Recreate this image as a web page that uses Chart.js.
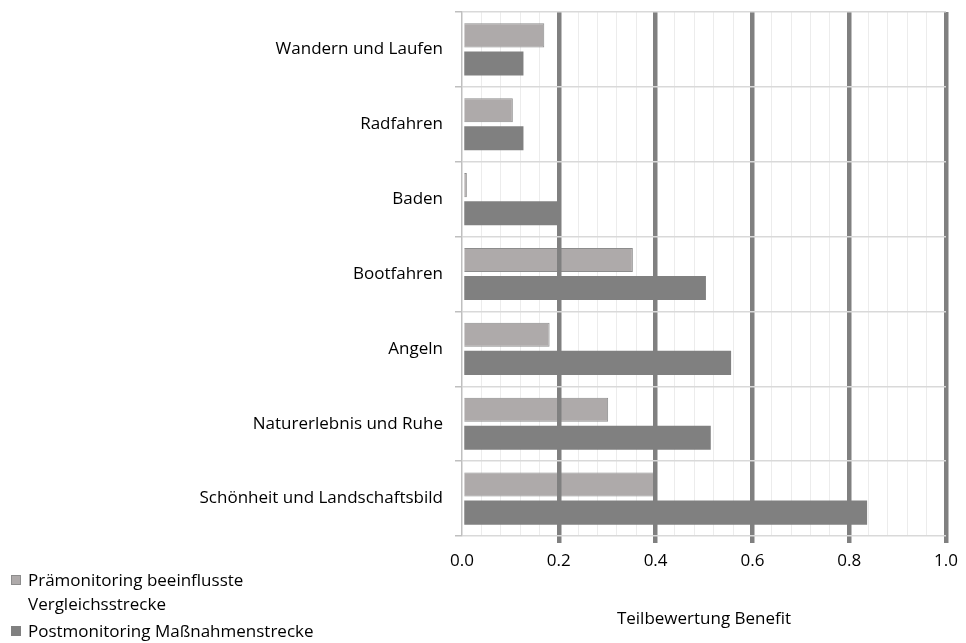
<!DOCTYPE html>
<html>
<head>
<meta charset="utf-8">
<script src="https://cdn.jsdelivr.net/npm/chart.js@4/dist/chart.umd.min.js"></script>
<style>
    html, body { margin: 0; padding: 0; background: #fff; }
    #wrap { position: relative; width: 966px; height: 643px; }
    #legend { position: absolute; left: 11px; top: 568px; font-family: 'Open Sans', sans-serif; font-size: 17px; color: #000; }
    .item { display: flex; align-items: flex-start; margin-bottom: 3px; }
    .box { width: 10px; height: 10px; margin-top: 7px; margin-right: 7px; box-sizing: border-box; }
    .txt { line-height: 24px; }
</style>
</head>
<body>
<div id="wrap">
    <canvas id="benefitChart" width="966" height="643"></canvas>
    <div id="legend"></div>
</div>
<script>
// Teilbewertung Benefit - Prä vs. Post
const categories = [
    'Wandern und Laufen',
    'Radfahren',
    'Baden',
    'Bootfahren',
    'Angeln',
    'Naturerlebnis und Ruhe',
    'Schönheit und Landschaftsbild'
];
const seriesNames = [
    ['Prämonitoring beeinflusste', 'Vergleichsstrecke'],
    ['Postmonitoring Maßnahmenstrecke']
];
const preValues = [0.17, 0.105, 0.01, 0.353, 0.181, 0.302, 0.40];
const postValues = [0.127, 0.127, 0.20, 0.504, 0.556, 0.514, 0.837];
const xTicks = [0, 0.2, 0.4, 0.6, 0.8, 1.0];
const axisTitle = 'Teilbewertung Benefit';

const preColor = '#aeaaaa';
const preBorder = '#8c8c8c';
const postColor = '#808080';
const font = "'Open Sans', sans-serif";

function isMajor(v) {
    return Math.abs(v * 5 - Math.round(v * 5)) < 1e-6;
}

const ctx = document.getElementById('benefitChart').getContext('2d');

new Chart(ctx, {
    type: 'bar',
    data: {
        labels: categories,
        datasets: [{
            label: seriesNames[0].join(' '),
            data: preValues,
            backgroundColor: preColor,
            borderColor: preBorder,
            borderWidth: 1,
            xAxisID: 'x'
        }, {
            label: seriesNames[1].join(' '),
            data: postValues,
            backgroundColor: postColor,
            borderColor: postColor,
            borderWidth: 0,
            xAxisID: 'x'
        }]
    },
    options: {
        indexAxis: 'y',
        responsive: false,
        animation: false,
        devicePixelRatio: 1,
        categoryPercentage: 0.75,
        barPercentage: 0.857,
        layout: { padding: { top: 12, right: 20, left: 0, bottom: 0 } },
        plugins: {
            legend: { display: false },
            tooltip: { enabled: false }
        },
        scales: {
            x: {
                type: 'linear',
                position: 'bottom',
                min: 0,
                max: 1,
                afterBuildTicks: scale => {
                    scale.ticks = xTicks.map(v => ({ value: v }));
                },
                afterFit: scale => { scale.height = 107; },
                grid: {
                    z: 1,
                    color: c => (c.tick && c.tick.value === 0) ? 'rgba(0,0,0,0)' : '#808080',
                    tickColor: c => (c.tick && c.tick.value === 0) ? 'rgba(0,0,0,0)' : '#808080',
                    lineWidth: 4.5,
                    tickWidth: 4.5,
                    tickLength: 7
                },
                border: { display: false },
                ticks: {
                    padding: 8,
                    color: '#000',
                    maxRotation: 0,
                    autoSkip: false,
                    font: { family: font, size: 17 },
                    callback: v => Number(v).toFixed(1)
                },
                title: {
                    display: true,
                    text: axisTitle,
                    color: '#000',
                    font: { family: font, size: 17 },
                    padding: { top: 0, bottom: 14 }
                }
            },
            xMinor: {
                type: 'linear',
                position: 'bottom',
                min: 0,
                max: 1,
                afterFit: scale => { scale.height = 0; },
                ticks: { display: false, stepSize: 0.04 },
                grid: {
                    z: -1,
                    drawTicks: false,
                    color: c => (c.tick && (c.tick.value === 0 || isMajor(c.tick.value))) ? 'rgba(0,0,0,0)' : '#ececec',
                    lineWidth: 1
                },
                border: { display: false }
            },
            y: {
                type: 'category',
                afterFit: scale => {
                    scale.width = 462;
                    scale.paddingTop = 0;
                    scale.paddingBottom = 0;
                },
                grid: {
                    z: 2,
                    offset: true,
                    color: '#d9d9d9',
                    lineWidth: 1.5,
                    tickColor: '#bfbfbf',
                    tickLength: 7
                },
                border: { display: true, color: '#bfbfbf', width: 1.5, z: 3 },
                ticks: {
                    padding: 12,
                    color: '#000',
                    font: { family: font, size: 17 }
                }
            }
        }
    }
});

// legend as html so the first label can wrap like the original
const legendEl = document.getElementById('legend');
[[preColor, preBorder], [postColor, postColor]].forEach((c, i) => {
    const item = document.createElement('div');
    item.className = 'item';
    const box = document.createElement('div');
    box.className = 'box';
    box.style.background = c[0];
    box.style.border = '1px solid ' + c[1];
    const txt = document.createElement('div');
    txt.className = 'txt';
    txt.innerHTML = seriesNames[i].join('<br>');
    item.appendChild(box);
    item.appendChild(txt);
    legendEl.appendChild(item);
});
</script>
</body>
</html>
